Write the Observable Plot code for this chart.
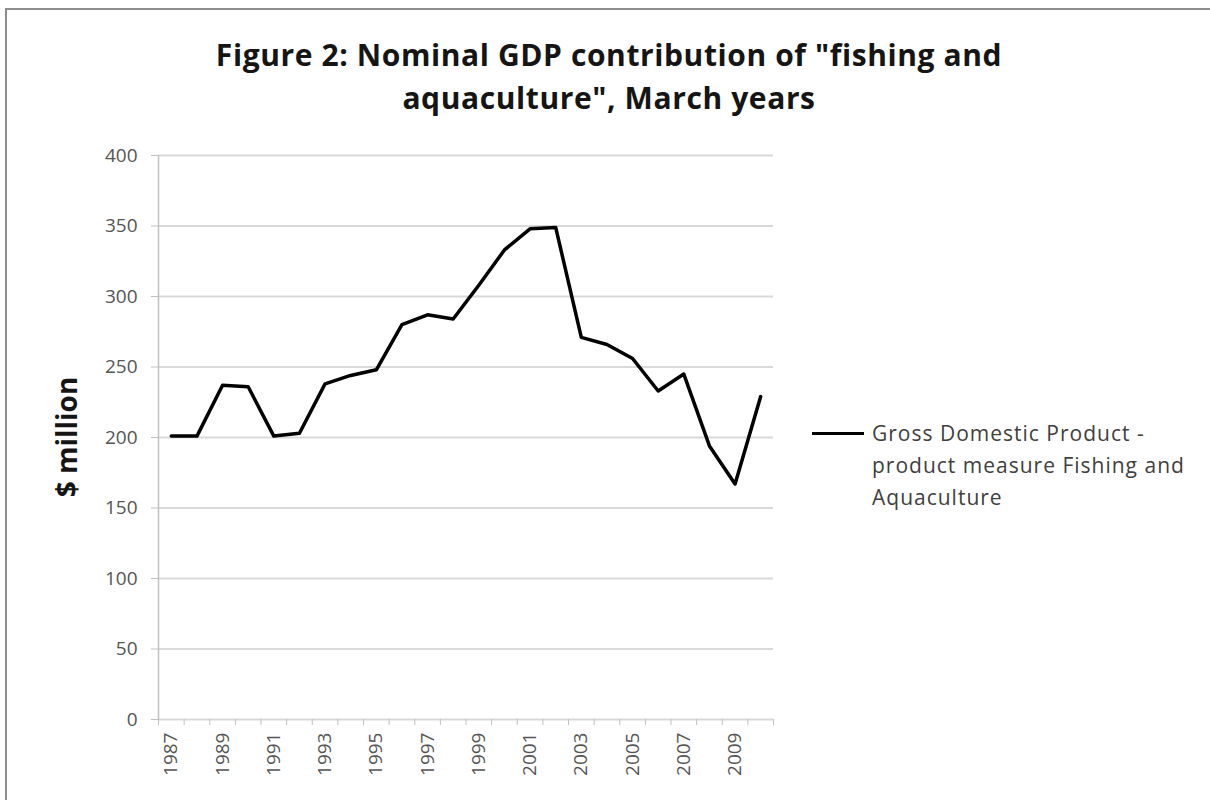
<!DOCTYPE html>
<html><head><meta charset="utf-8">
<script src="https://cdn.jsdelivr.net/npm/d3@7"></script>
<script src="https://cdn.jsdelivr.net/npm/@observablehq/plot@0.6"></script>
<style>
body{margin:0;background:#fff;}
#frame{position:relative;width:1210px;height:800px;overflow:hidden;background:#fff;}
#border{position:absolute;left:5px;top:8px;width:1300px;height:900px;border-top:2px solid #8c8c8c;border-left:2px solid #8c8c8c;}
#title{position:absolute;left:0;top:33px;width:1218px;text-align:center;font-family:"Open Sans";font-weight:bold;font-size:30px;letter-spacing:0.6px;line-height:43px;color:#151515;}
#chart{position:absolute;left:0;top:130px;}
#ylabel{position:absolute;left:66px;top:437px;transform:translate(-50%,-50%) rotate(-90deg);font-family:"Open Sans";font-weight:bold;font-size:28px;white-space:nowrap;color:#151515;}
#legend{position:absolute;left:812px;top:417px;font-family:"Open Sans";font-size:21px;letter-spacing:1px;line-height:32px;color:#404040;}
#swatch{position:absolute;left:0;top:15px;width:52px;height:3px;background:#000;}
#legtext{position:absolute;left:60px;top:0;width:380px;}
</style></head>
<body>
<div id="frame">
<div id="border"></div>
<div id="title">Figure 2: Nominal GDP contribution of "fishing and<br>aquaculture", March years</div>
<div id="chart"></div>
<div id="ylabel">$ million</div>
<div id="legend"><div id="swatch"></div><div id="legtext">Gross Domestic Product -<br>product measure Fishing and<br>Aquaculture</div></div>
</div>
<script>
const years = [1987,1988,1989,1990,1991,1992,1993,1994,1995,1996,1997,1998,1999,2000,2001,2002,2003,2004,2005,2006,2007,2008,2009,2010];
const gdp = [201,201,237,236,201,203,238,244,248,280,287,284,308,333,348,349,271,266,256,233,245,194,167,229];
const yTicks = [0,50,100,150,200,250,300,350,400];
const xLabelYears = [1987,1989,1991,1993,1995,1997,1999,2001,2003,2005,2007,2009];
const seriesName = "Gross Domestic Product - product measure Fishing and Aquaculture";

const data = years.map((year, i) => ({year, value: gdp[i]}));
const boundaries = [...years.map(y => y - 0.5), years[years.length - 1] + 0.5];

const chart = Plot.plot({
  width: 1210, height: 670,
  marginLeft: 158, marginRight: 437, marginTop: 25, marginBottom: 81,
  style: {fontFamily: "Open Sans", background: "transparent"},
  x: {domain: [years[0] - 0.5, years[years.length - 1] + 0.5]},
  y: {domain: [0, 400]},
  marks: [
    Plot.gridY(yTicks, {stroke: "#d9d9d9", strokeOpacity: 1, strokeWidth: 2}),
    Plot.axisY(yTicks, {tickSize: 7, tickPadding: 14, stroke: "#c0c0c0", fill: "#555555", fontSize: 19, tickFormat: d => String(d), label: null, style: {letterSpacing: "2px"}}),
    Plot.ruleX([years[0] - 0.5], {stroke: "#c0c0c0", strokeWidth: 1.5}),
    Plot.axisX(boundaries, {tickSize: 6, tickFormat: () => "", stroke: "#c0c0c0", label: null}),
    Plot.axisX(xLabelYears, {tickSize: 0, tickRotate: -90, tickPadding: 13, fill: "#555555", fontSize: 19, tickFormat: d => String(d), label: null, style: {letterSpacing: "2.5px"}}),
    Plot.lineY(data, {x: "year", y: "value", stroke: "#000", strokeWidth: 3.5, title: () => seriesName})
  ]
});
document.getElementById("chart").appendChild(chart);
</script>
</body></html>
